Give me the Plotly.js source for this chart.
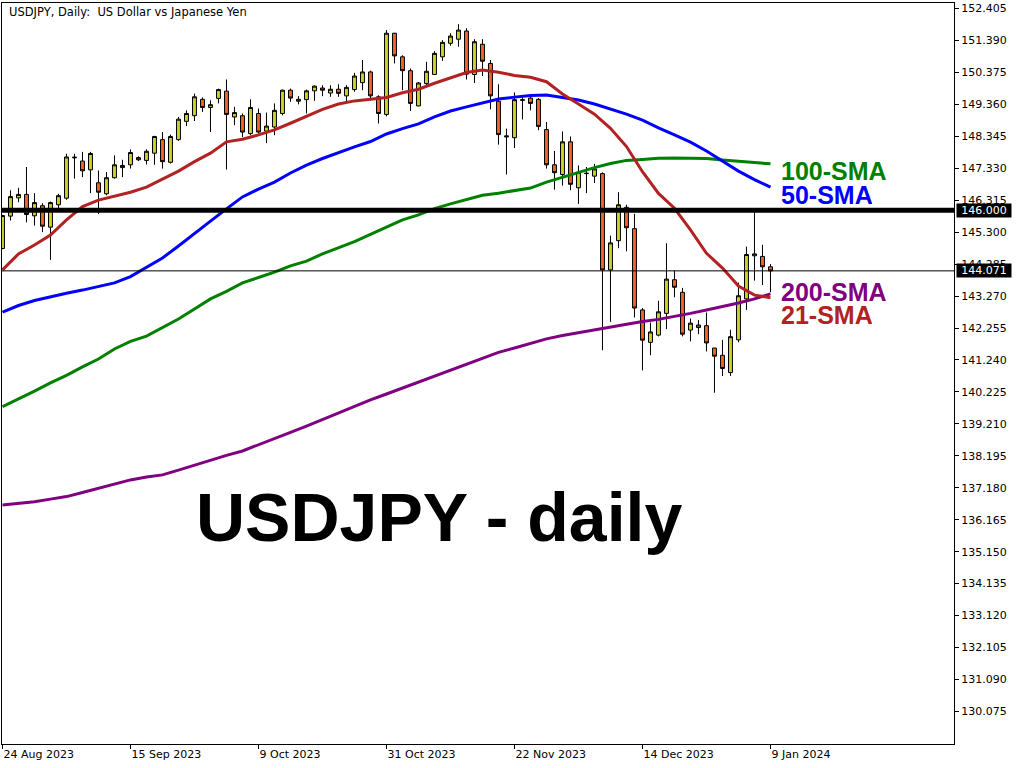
<!DOCTYPE html>
<html>
<head>
<meta charset="utf-8">
<script src="https://cdn.plot.ly/plotly-3.0.1.min.js"></script>
<style>
  html, body { margin: 0; padding: 0; background: #ffffff; }
  #chart { width: 1024px; height: 768px; }
</style>
</head>
<body>
<div id="chart"></div>
<script>
// Daily trading sessions (no bars on 25 Dec and 1 Jan)
const tradeDates = [
  '2023-08-24','2023-08-25','2023-08-28','2023-08-29','2023-08-30','2023-08-31','2023-09-01',
  '2023-09-04','2023-09-05','2023-09-06','2023-09-07','2023-09-08',
  '2023-09-11','2023-09-12','2023-09-13','2023-09-14','2023-09-15',
  '2023-09-18','2023-09-19','2023-09-20','2023-09-21','2023-09-22',
  '2023-09-25','2023-09-26','2023-09-27','2023-09-28','2023-09-29',
  '2023-10-02','2023-10-03','2023-10-04','2023-10-05','2023-10-06',
  '2023-10-09','2023-10-10','2023-10-11','2023-10-12','2023-10-13',
  '2023-10-16','2023-10-17','2023-10-18','2023-10-19','2023-10-20',
  '2023-10-23','2023-10-24','2023-10-25','2023-10-26','2023-10-27',
  '2023-10-30','2023-10-31','2023-11-01','2023-11-02','2023-11-03',
  '2023-11-06','2023-11-07','2023-11-08','2023-11-09','2023-11-10',
  '2023-11-13','2023-11-14','2023-11-15','2023-11-16','2023-11-17',
  '2023-11-20','2023-11-21','2023-11-22','2023-11-23','2023-11-24',
  '2023-11-27','2023-11-28','2023-11-29','2023-11-30','2023-12-01',
  '2023-12-04','2023-12-05','2023-12-06','2023-12-07','2023-12-08',
  '2023-12-11','2023-12-12','2023-12-13','2023-12-14','2023-12-15',
  '2023-12-18','2023-12-19','2023-12-20','2023-12-21','2023-12-22',
  '2023-12-26','2023-12-27','2023-12-28','2023-12-29',
  '2024-01-02','2024-01-03','2024-01-04','2024-01-05',
  '2024-01-08','2024-01-09'
];

// USDJPY daily OHLC
const openPx = [
  144.78,145.81,146.39,146.50,145.82,146.14,145.46,146.17,146.38,147.66,
  147.56,147.28,146.87,146.52,147.03,147.35,147.44,147.67,147.58,147.81,
  148.24,147.52,148.24,148.82,149.00,149.52,149.26,149.55,149.78,148.96,
  149.00,148.43,149.07,148.51,148.64,149.07,149.81,149.46,149.51,149.79,
  149.88,149.72,149.84,149.63,149.83,150.05,150.39,149.60,149.04,151.62,
  150.87,150.43,149.31,150.02,150.31,150.87,151.30,151.43,151.69,150.31,
  151.27,150.66,149.46,148.36,148.30,149.51,149.56,149.52,148.56,147.44,
  147.13,148.17,146.71,147.16,147.08,147.16,144.10,145.03,146.09,145.41,
  142.83,141.80,142.03,142.72,143.79,143.39,142.19,142.27,142.33,141.62,
  141.39,140.84,141.88,143.18,144.55,144.53,144.20
];
const highPx = [
  145.85,146.63,146.71,147.37,146.54,146.22,146.27,146.52,147.79,147.79,
  147.85,147.85,147.26,147.21,147.74,147.60,147.93,147.71,147.93,148.36,
  148.48,148.40,148.96,149.17,149.70,149.58,149.49,149.86,150.15,149.28,
  149.07,149.52,149.23,149.10,149.39,149.83,149.86,149.62,149.83,149.96,
  149.97,149.97,150.00,149.97,150.36,150.77,150.43,149.65,151.72,151.63,
  150.92,150.50,150.07,150.71,151.05,151.40,151.62,151.91,151.78,151.43,
  151.43,150.77,150.00,148.59,149.74,149.65,149.68,149.56,148.80,147.88,
  148.50,148.34,147.42,147.37,147.47,147.20,145.19,146.57,146.17,145.88,
  142.89,142.43,143.12,144.95,144.08,143.53,142.56,142.51,142.75,141.62,
  141.88,142.20,143.70,144.84,145.95,144.90,144.29
];
const lowPx = [
  144.76,145.67,146.25,145.61,145.51,145.30,144.42,146.04,146.33,147.00,
  147.05,146.54,145.88,146.47,147.00,147.05,147.32,147.56,147.45,147.44,
  147.32,147.48,148.20,148.67,148.83,149.12,148.48,149.39,147.29,148.70,
  148.32,148.38,148.43,148.13,148.38,149.01,149.44,149.36,149.07,149.47,
  149.62,149.60,149.60,149.44,149.76,149.81,149.49,148.75,148.98,150.66,
  149.81,149.15,149.30,149.97,150.29,150.74,151.22,151.19,150.15,150.04,
  150.26,149.20,148.08,147.13,147.97,148.88,149.17,148.54,147.32,146.65,
  146.78,146.63,146.20,146.54,146.86,141.55,142.45,144.79,144.69,142.59,
  140.91,141.39,141.99,142.22,143.23,141.99,141.83,142.06,141.51,140.20,
  140.73,140.73,141.80,142.83,143.76,143.62,143.39
];
const closePx = [
  145.83,146.43,146.50,145.86,146.24,145.49,146.24,146.46,147.69,147.68,
  147.25,147.80,146.57,147.03,147.44,147.42,147.83,147.60,147.87,148.34,
  147.54,148.34,148.89,149.07,149.60,149.26,149.35,149.83,149.04,149.10,
  148.48,149.26,148.48,148.67,149.17,149.81,149.56,149.52,149.79,149.94,
  149.81,149.84,149.71,149.90,150.26,150.39,149.63,149.07,151.62,150.90,
  150.43,149.39,150.04,150.41,150.98,151.33,151.53,151.72,150.32,151.35,
  150.73,149.63,148.40,148.33,149.51,149.49,149.39,148.66,147.44,147.19,
  148.17,146.82,147.21,147.17,147.31,144.10,144.96,146.17,145.44,142.89,
  141.87,142.13,142.77,143.81,143.55,142.06,142.41,142.35,141.78,141.36,
  140.97,141.98,143.28,144.59,144.61,144.20,144.07
];

// Moving averages, one value every second session
const maDates = tradeDates.filter((d, i) => i % 2 === 0);
const sma21 = [
  144.10,144.61,144.89,145.21,145.69,146.11,146.32,146.45,146.57,146.73,
  146.98,147.24,147.54,147.81,148.17,148.25,148.39,148.55,148.76,148.99,
  149.20,149.37,149.47,149.52,149.58,149.73,149.84,150.03,150.21,150.37,
  150.45,150.38,150.28,150.22,150.08,149.69,149.37,149.05,148.60,148.02,
  147.22,146.53,146.06,145.37,144.63,144.16,143.59,143.30,143.22
];
const sma50 = [
  142.76,142.97,143.13,143.25,143.36,143.46,143.57,143.69,143.89,144.19,
  144.48,144.86,145.27,145.65,146.04,146.42,146.67,146.89,147.18,147.43,
  147.64,147.83,148.01,148.18,148.42,148.59,148.74,148.96,149.15,149.28,
  149.40,149.53,149.59,149.64,149.66,149.59,149.50,149.37,149.21,149.05,
  148.86,148.61,148.39,148.16,147.88,147.56,147.24,146.97,146.73
];
const sma100 = [
  139.76,140.00,140.25,140.51,140.75,141.02,141.27,141.59,141.83,142.00,
  142.27,142.54,142.86,143.18,143.42,143.69,143.86,144.03,144.23,144.38,
  144.61,144.80,145.00,145.23,145.46,145.69,145.85,146.05,146.20,146.34,
  146.47,146.54,146.61,146.70,146.89,147.05,147.21,147.35,147.48,147.58,
  147.61,147.65,147.66,147.66,147.64,147.59,147.55,147.50,147.47
];
const sma200 = [
  136.63,136.68,136.74,136.82,136.90,137.03,137.16,137.30,137.43,137.52,
  137.59,137.74,137.90,138.06,138.21,138.35,138.54,138.73,138.94,139.14,
  139.35,139.56,139.76,139.97,140.16,140.35,140.52,140.72,140.92,141.10,
  141.30,141.48,141.62,141.76,141.91,142.02,142.11,142.19,142.29,142.38,
  142.46,142.53,142.62,142.72,142.83,142.93,143.05,143.18,143.34
];

// Axis labels
const dateTickVals = ['2023-08-24','2023-09-15','2023-10-09','2023-10-31','2023-11-22','2023-12-14','2024-01-09'];
const dateTickText = ['24 Aug 2023','15 Sep 2023','9 Oct 2023','31 Oct 2023','22 Nov 2023','14 Dec 2023','9 Jan 2024'];
const priceTicks = [
  130.075,131.090,132.105,133.120,134.135,135.150,136.165,137.180,138.195,139.210,
  140.225,141.240,142.255,143.270,144.285,145.300,146.315,147.330,148.345,149.360,
  150.375,151.390,152.405
];
const supportLevel = 146.000;
const lastPrice = 144.071;

const maLabels = ['100-SMA', '50-SMA', '200-SMA', '21-SMA'];
const maColors = { 'sma21': '#B22222', 'sma50': '#0000FF', 'sma100': '#008000', 'sma200': '#800080' };

const traces = [
  {
    type: 'candlestick',
    x: tradeDates,
    open: openPx, high: highPx, low: lowPx, close: closePx,
    increasing: { line: { color: '#000000', width: 1 }, fillcolor: '#C8D22E' },
    decreasing: { line: { color: '#000000', width: 1 }, fillcolor: '#EF6428' },
    whiskerwidth: 0,
    hoverinfo: 'skip',
    showlegend: false
  },
  { type: 'scatter', mode: 'lines', x: maDates, y: sma200, line: { color: maColors.sma200, width: 3 }, hoverinfo: 'skip', showlegend: false },
  { type: 'scatter', mode: 'lines', x: maDates, y: sma100, line: { color: maColors.sma100, width: 3 }, hoverinfo: 'skip', showlegend: false },
  { type: 'scatter', mode: 'lines', x: maDates, y: sma50, line: { color: maColors.sma50, width: 3 }, hoverinfo: 'skip', showlegend: false },
  { type: 'scatter', mode: 'lines', x: maDates, y: sma21, line: { color: maColors.sma21, width: 3 }, hoverinfo: 'skip', showlegend: false }
];

const axisFont = { family: 'DejaVu Sans, sans-serif', size: 11, color: '#000000' };
const labelFont = (c) => ({ family: 'Liberation Sans, Arial, sans-serif', size: 25, color: c, weight: 700 });

// Indicator name next to the end of its line
function maLabel(text, color, yPaper) {
  return { xref: 'paper', yref: 'paper', x: 0.8162, y: yPaper, xanchor: 'left', yanchor: 'middle',
           height: 20, text: text, showarrow: false, font: labelFont(color) };
}
// Price tag on the right-hand scale
function priceTag(value) {
  return { xref: 'paper', yref: 'y', x: 1, y: value, xanchor: 'left', yanchor: 'middle', xshift: 2,
           width: 54, height: 13, text: value.toFixed(3), showarrow: false, bgcolor: '#000000', borderpad: 0,
           font: { family: 'DejaVu Sans, sans-serif', size: 11, color: '#ffffff' } };
}

const layout = {
  width: 1024,
  height: 768,
  margin: { l: 2, r: 70, t: 3, b: 24 },
  paper_bgcolor: '#ffffff',
  plot_bgcolor: '#ffffff',
  showlegend: false,
  boxgap: 0.3,
  xaxis: {
    type: 'category',
    range: [-0.06, 118.94],
    showgrid: false,
    zeroline: false,
    rangeslider: { visible: false },
    showline: true, linecolor: '#000000', linewidth: 1, mirror: true,
    ticks: 'outside', ticklen: 4, tickcolor: '#000000',
    tickvals: dateTickVals, ticktext: dateTickText,
    ticklabelposition: 'outside right',
    tickfont: axisFont,
    fixedrange: true
  },
  yaxis: {
    side: 'right',
    range: [129.041, 152.580],
    showgrid: false,
    zeroline: false,
    showline: true, linecolor: '#000000', linewidth: 1, mirror: true,
    ticks: 'outside', ticklen: 4, tickcolor: '#000000',
    tickvals: priceTicks,
    ticktext: priceTicks.map(v => v.toFixed(3)),
    tickfont: axisFont,
    fixedrange: true
  },
  shapes: [
    { type: 'line', xref: 'paper', x0: 0, x1: 1, yref: 'y', y0: supportLevel, y1: supportLevel,
      line: { color: '#000000', width: 5 }, layer: 'above' },
    { type: 'line', xref: 'paper', x0: 0, x1: 1, yref: 'y', y0: lastPrice, y1: lastPrice,
      line: { color: '#000000', width: 1 }, layer: 'above' }
  ],
  annotations: [
    { xref: 'paper', yref: 'paper', x: 0.00525, y: 0.9879, xanchor: 'left', yanchor: 'middle',
      text: 'USDJPY, Daily:\u00A0\u00A0US Dollar vs Japanese Yen', showarrow: false,
      font: { family: 'DejaVu Sans, sans-serif', size: 11.5, color: '#000000' } },
    maLabel(maLabels[0], maColors.sma100, 0.7737),
    maLabel(maLabels[1], maColors.sma50, 0.7414),
    maLabel(maLabels[2], maColors.sma200, 0.6096),
    maLabel(maLabels[3], maColors.sma21, 0.5795),
    { xref: 'paper', yref: 'paper', x: 0.4590, y: 0.307, xanchor: 'center', yanchor: 'middle',
      text: 'USDJPY - daily', showarrow: false,
      font: { family: 'Liberation Sans, Arial, sans-serif', size: 68, color: '#000000', weight: 700 } },
    priceTag(supportLevel),
    priceTag(lastPrice)
  ]
};

Plotly.newPlot('chart', traces, layout, { displayModeBar: false, staticPlot: true });
</script>
</body>
</html>
